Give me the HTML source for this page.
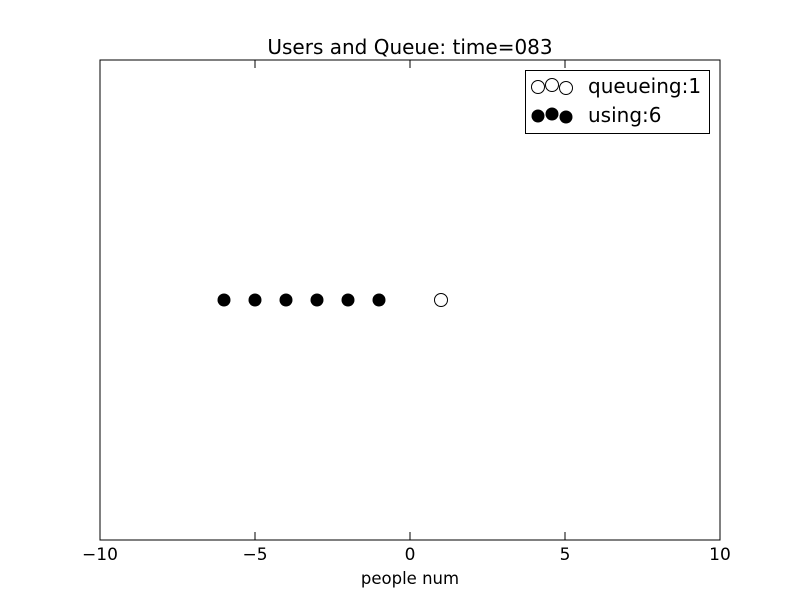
<!DOCTYPE html>
<html><head><meta charset="utf-8"><style>body{margin:0;background:#fff}svg{display:block}text{font-family:"DejaVu Sans","Liberation Sans",sans-serif}</style></head>
<body>
<svg id="c" width="800" height="600" xmlns="http://www.w3.org/2000/svg">
<rect x="0" y="0" width="800" height="600" fill="#fff"/>
<text x="410" y="54" font-size="20" text-anchor="middle">Users and Queue: time=083</text>
<g id="ticks"></g>
<g id="marks"></g>
<rect x="100" y="60" width="620" height="480" fill="none" stroke="#000" stroke-width="1"/>
<text x="410" y="584" font-size="16.5" text-anchor="middle">people num</text>
<g>
<rect x="525.5" y="70.5" width="184" height="63" fill="#fff" stroke="#000"/>
<g>
<circle cx="538" cy="87" r="6.5" fill="#fff" stroke="#000"/><circle cx="552" cy="85" r="6.5" fill="#fff" stroke="#000"/><circle cx="566" cy="88" r="6.5" fill="#fff" stroke="#000"/>
<text x="588" y="93" font-size="20">queueing:1</text></g>
<g>
<circle cx="538" cy="116" r="6.5" fill="#000"/><circle cx="552" cy="114" r="6.5" fill="#000"/><circle cx="566" cy="117" r="6.5" fill="#000"/>
<text x="588" y="122" font-size="20">using:6</text></g>
</g>
</svg>
<script>
const xTicks=[-10,-5,0,5,10];
const xTickLabels=["\u221210","\u22125","0","5","10"];
const usingX=[-6,-5,-4,-3,-2,-1];
const usingY=[0,0,0,0,0,0];
const queueX=[1];
const queueY=[0];
const NS="http://www.w3.org/2000/svg";
const xs=v=>100+(v+10)*31;
const ys=v=>300-v*240;
const tg=document.getElementById('ticks'),mg=document.getElementById('marks');
xTicks.forEach((t,i)=>{
 const x=xs(t);
 [[540,532],[60,68]].forEach(([a,b])=>{const l=document.createElementNS(NS,'line');
 l.setAttribute('x1',x);l.setAttribute('x2',x);l.setAttribute('y1',a);l.setAttribute('y2',b);l.setAttribute('stroke','#000');
 
 
 tg.appendChild(l);});
 const tx=document.createElementNS(NS,'text');
 tx.setAttribute('x',x);tx.setAttribute('y',560);tx.setAttribute('font-size','17');tx.setAttribute('text-anchor','middle');
 tx.textContent=xTickLabels[i];
 
 
 tg.appendChild(tx);
});
usingX.forEach((v,i)=>{const c=document.createElementNS(NS,'circle');
 c.setAttribute('cx',xs(v));c.setAttribute('cy',ys(usingY[i]));c.setAttribute('r',6.5);c.setAttribute('fill','#000');
 
 
 mg.appendChild(c);});
queueX.forEach((v,i)=>{const c=document.createElementNS(NS,'circle');
 c.setAttribute('cx',xs(v));c.setAttribute('cy',ys(queueY[i]));c.setAttribute('r',6.5);c.setAttribute('fill','#fff');c.setAttribute('stroke','#000');
 
 
 mg.appendChild(c);});
</script>
</body></html>
